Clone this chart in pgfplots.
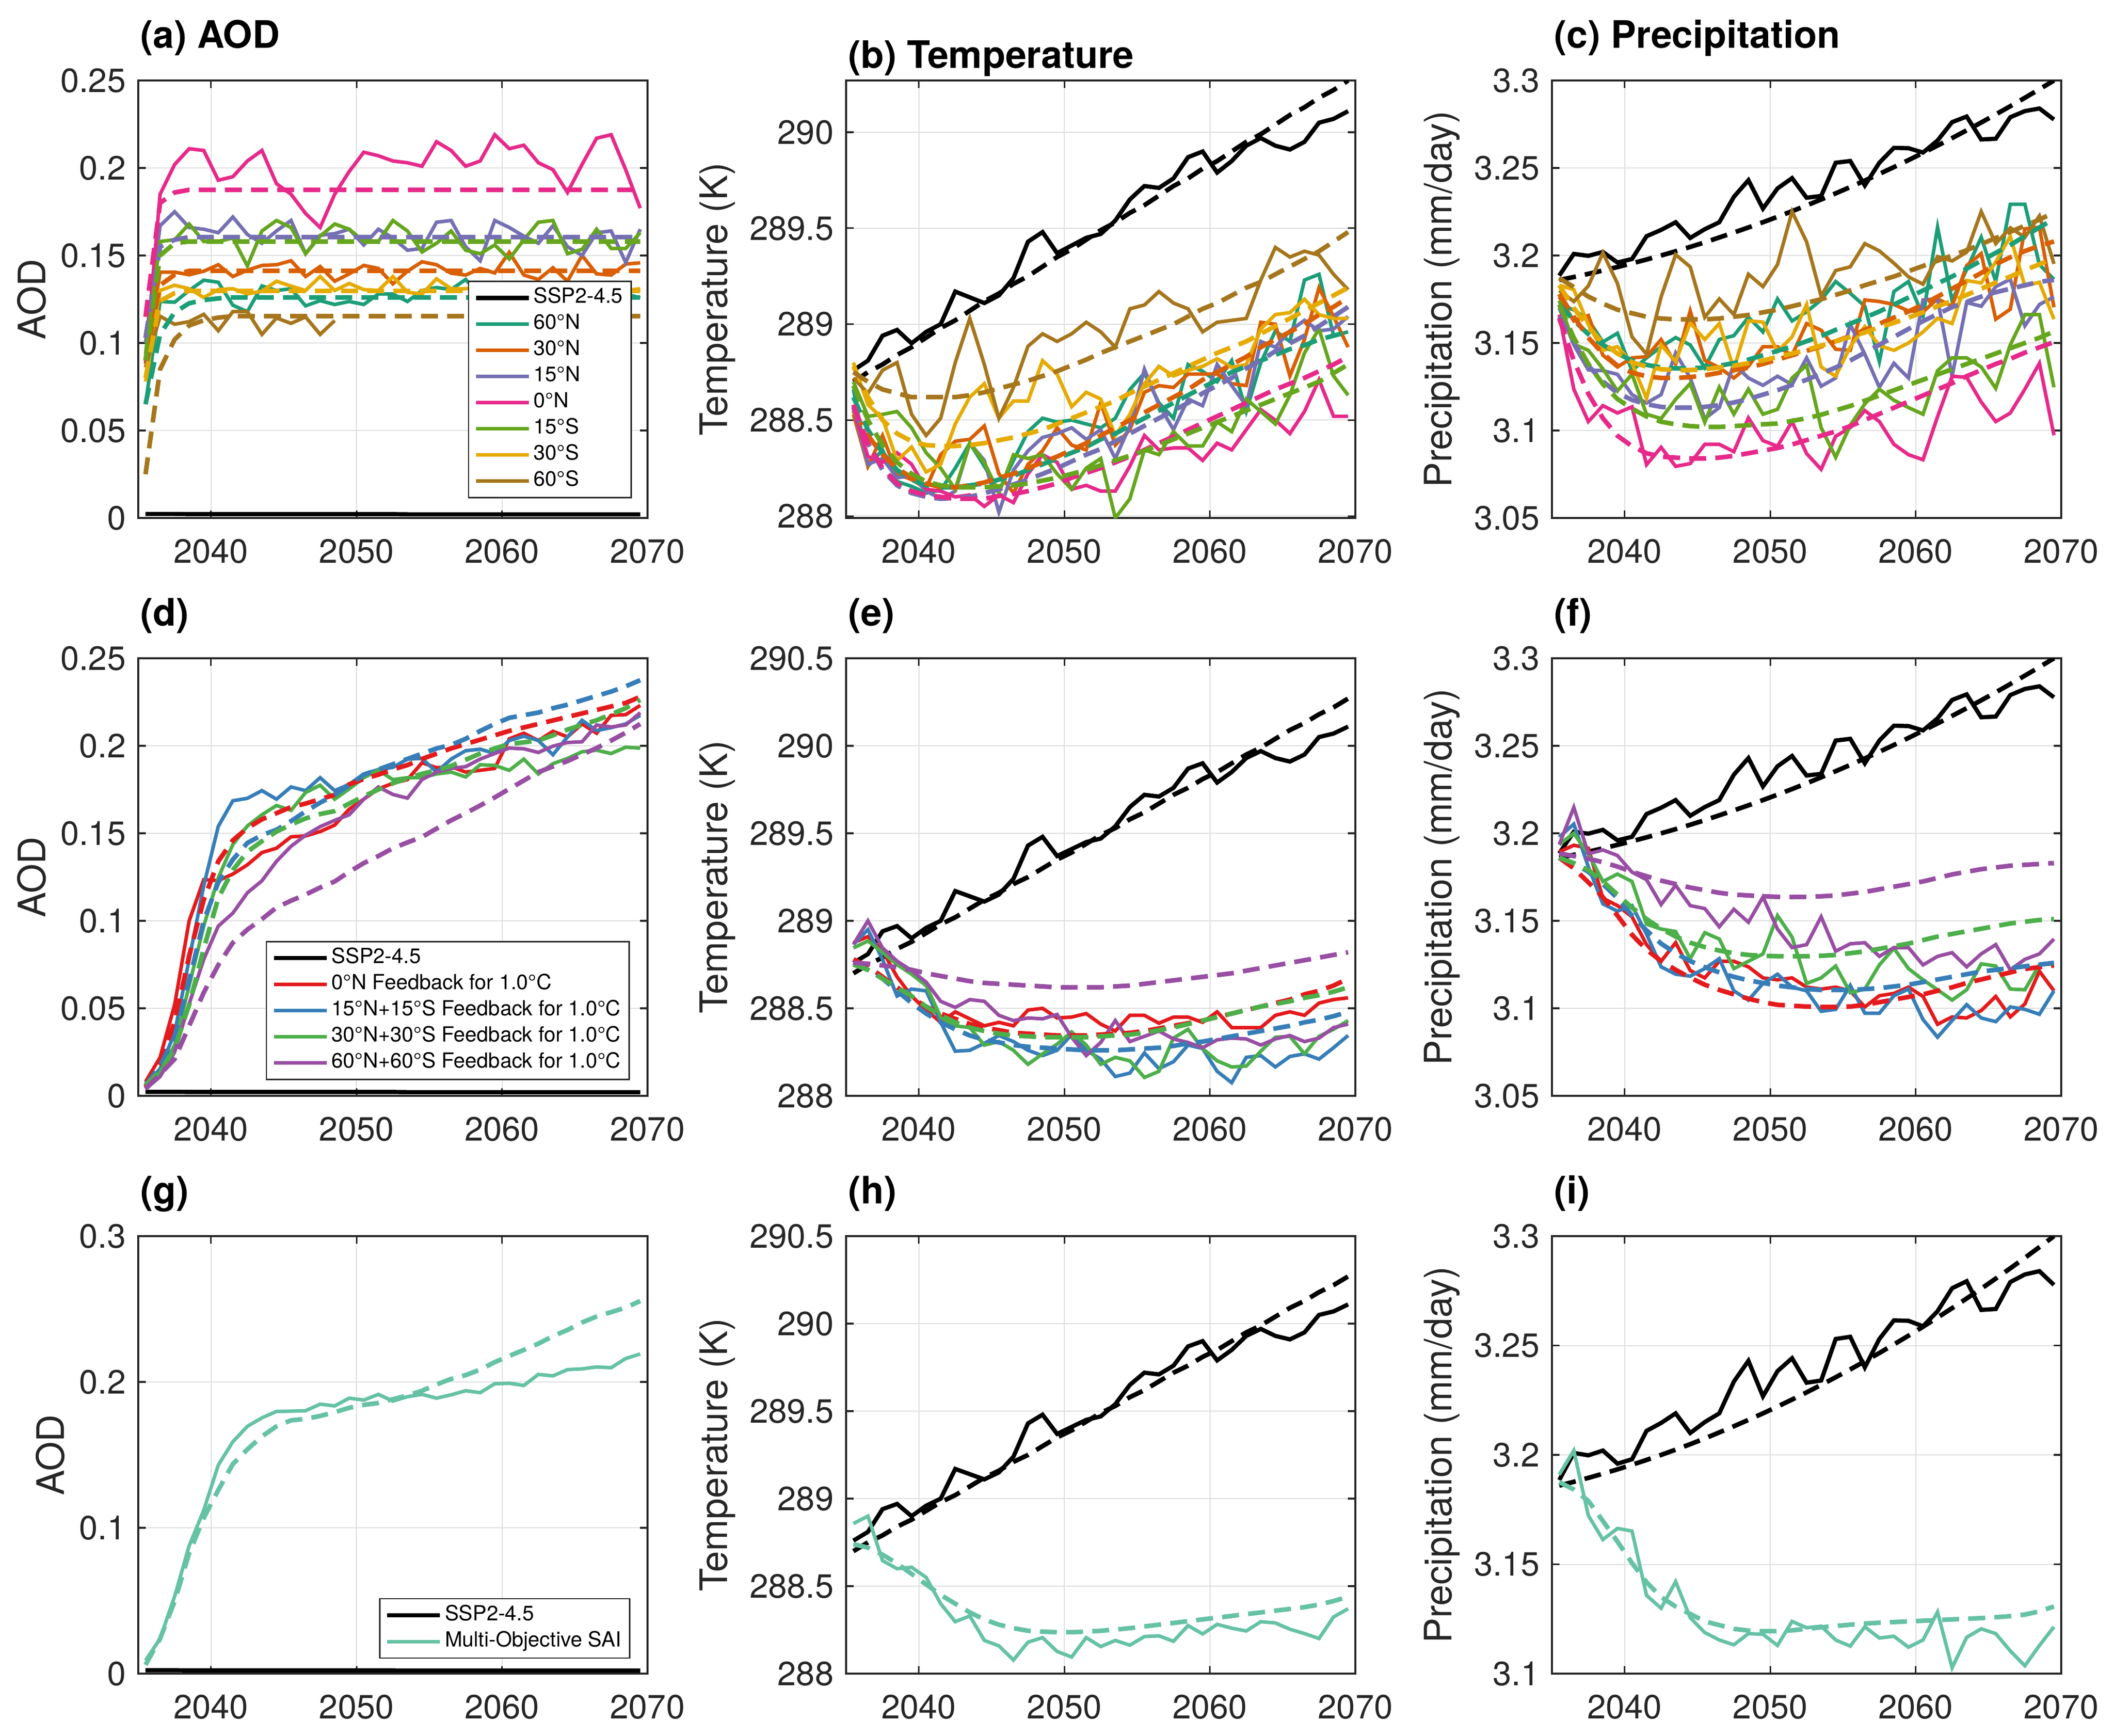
\documentclass[border=0pt]{standalone}
\usepackage{pgfplots}
\pgfplotsset{compat=1.18}
\usepackage{pgfplotstable}
\usepackage{fontspec}
\setmainfont{TeX Gyre Heros}

\definecolor{txt}{HTML}{262626}
\definecolor{n60}{HTML}{1B9E77}
\definecolor{n30}{HTML}{D95F02}
\definecolor{n15}{HTML}{7570B3}
\definecolor{n00}{HTML}{E7298A}
\definecolor{s15}{HTML}{66A61E}
\definecolor{s30}{HTML}{E6AB02}
\definecolor{s60}{HTML}{A6761D}
\definecolor{fr}{HTML}{E41A1C}
\definecolor{fb}{HTML}{377EB8}
\definecolor{fg}{HTML}{4DAF4A}
\definecolor{fp}{HTML}{984EA3}
\definecolor{mo}{HTML}{66C2A5}

% SSP2-4.5 reference run: AOD, temperature (K) with fit, precipitation (mm/day) with fit
\pgfplotstableread{
yr aod T Tf P Pf
2035.5 0.0023 288.76 288.70 3.1885 3.1860
2036.5 0.0023 288.81 288.75 3.2009 3.1877
2037.5 0.0023 288.94 288.79 3.1998 3.1895
2038.5 0.0022 288.97 288.84 3.2020 3.1914
2039.5 0.0022 288.90 288.88 3.1960 3.1934
2040.5 0.0022 288.96 288.93 3.1980 3.1955
2041.5 0.0022 289.00 288.98 3.2110 3.1977
2042.5 0.0022 289.17 289.02 3.2146 3.2000
2043.5 0.0022 289.14 289.07 3.2190 3.2024
2044.5 0.0022 289.11 289.12 3.2100 3.2049
2045.5 0.0022 289.15 289.16 3.2150 3.2075
2046.5 0.0022 289.24 289.21 3.2190 3.2103
2047.5 0.0022 289.43 289.25 3.2335 3.2131
2048.5 0.0022 289.48 289.30 3.2430 3.2160
2049.5 0.0022 289.37 289.35 3.2268 3.2190
2050.5 0.0022 289.41 289.39 3.2383 3.2221
2051.5 0.0022 289.45 289.44 3.2442 3.2253
2052.5 0.0022 289.47 289.49 3.2330 3.2286
2053.5 0.0021 289.54 289.53 3.2340 3.2320
2054.5 0.0021 289.65 289.58 3.2530 3.2355
2055.5 0.0021 289.72 289.62 3.2540 3.2391
2056.5 0.0021 289.71 289.67 3.2400 3.2428
2057.5 0.0021 289.76 289.72 3.2530 3.2466
2058.5 0.0021 289.87 289.76 3.2615 3.2505
2059.5 0.0021 289.90 289.81 3.2613 3.2545
2060.5 0.0021 289.79 289.85 3.2588 3.2586
2061.5 0.0021 289.85 289.90 3.2657 3.2628
2062.5 0.0021 289.93 289.95 3.2762 3.2671
2063.5 0.0021 289.97 289.99 3.2794 3.2715
2064.5 0.0021 289.93 290.04 3.2663 3.2760
2065.5 0.0021 289.91 290.09 3.2667 3.2806
2066.5 0.0021 289.95 290.13 3.2790 3.2853
2067.5 0.0021 290.05 290.18 3.2825 3.2901
2068.5 0.0021 290.07 290.22 3.2840 3.2950
2069.5 0.0021 290.11 290.27 3.2777 3.3000
}\ssp

% (a) AOD, single-latitude injections (s = simulated, d = fit)
\pgfplotstableread{
yr s60N d60N s30N d30N s15N d15N s0N d0N s15S d15S s30S d30S s60S d60S
2035.5 0.065 0.065 0.088 0.090 0.100 0.103 0.089 0.115 0.094 0.090 0.078 0.080 0.086 0.025
2036.5 0.1237 0.105 0.1405 0.133 0.167 0.155 0.185 0.180 0.158 0.150 0.130 0.124 0.1153 0.085
2037.5 0.1233 0.1175 0.1405 0.139 0.175 0.159 0.202 0.186 0.159 0.157 0.133 0.1285 0.1107 0.102
2038.5 0.130 0.1227 0.139 0.1412 0.166 0.1605 0.211 0.1875 0.168 0.158 0.131 0.1298 0.1122 0.110
2039.5 0.1359 0.1245 0.141 0.1412 0.165 0.1605 0.210 0.1875 0.158 0.158 0.126 0.1298 0.1164 0.113
2040.5 0.1347 0.1255 0.1447 0.1412 0.163 0.1605 0.193 0.1875 0.158 0.158 0.1305 0.1298 0.107 0.1145
2041.5 0.1216 0.126 0.138 0.1412 0.172 0.1605 0.195 0.1875 0.160 0.158 0.131 0.1298 0.1179 0.1153
2042.5 0.1179 0.126 0.1416 0.1412 0.162 0.1605 0.204 0.1875 0.144 0.158 0.128 0.1298 0.1179 0.1153
2043.5 0.1326 0.126 0.1443 0.1412 0.157 0.1605 0.210 0.1875 0.164 0.158 0.1296 0.1298 0.1049 0.1153
2044.5 0.130 0.126 0.1447 0.1412 0.164 0.1605 0.191 0.1875 0.170 0.158 0.1353 0.1298 0.1143 0.1153
2045.5 0.131 0.126 0.147 0.1412 0.170 0.1605 0.185 0.1875 0.166 0.158 0.1325 0.1298 0.1112 0.1153
2046.5 0.1212 0.126 0.138 0.1412 0.151 0.1605 0.174 0.1875 0.151 0.158 0.130 0.1298 0.1149 0.1153
2047.5 0.1242 0.126 0.1437 0.1412 0.1615 0.1605 0.166 0.1875 0.161 0.158 0.138 0.1298 0.1049 0.1153
2048.5 0.122 0.126 0.1353 0.1412 0.1625 0.1605 0.185 0.1875 0.168 0.158 0.130 0.1298 0.1128 0.1153
2049.5 0.1237 0.126 0.1395 0.1412 0.165 0.1605 0.198 0.1875 0.165 0.158 0.134 0.1298 nan 0.1153
2050.5 0.122 0.126 0.1443 0.1412 0.156 0.1605 0.209 0.1875 0.158 0.158 0.1305 0.1298 nan 0.1153
2051.5 0.128 0.126 0.1426 0.1412 0.165 0.1605 0.207 0.1875 0.158 0.158 0.130 0.1298 nan 0.1153
2052.5 0.128 0.126 0.1338 0.1412 0.160 0.1605 0.204 0.1875 0.170 0.158 0.138 0.1298 nan 0.1153
2053.5 0.1237 0.126 0.141 0.1412 0.153 0.1605 0.203 0.1875 0.164 0.158 0.129 0.1298 nan 0.1153
2054.5 0.130 0.126 0.1464 0.1412 0.154 0.1605 0.201 0.1875 0.152 0.158 0.128 0.1298 nan 0.1153
2055.5 0.1317 0.126 0.1447 0.1412 0.169 0.1605 0.215 0.1875 0.157 0.158 0.1367 0.1298 nan 0.1153
2056.5 0.1305 0.126 0.1399 0.1412 0.170 0.1605 0.210 0.1875 0.164 0.158 0.131 0.1298 nan 0.1153
2057.5 0.1363 0.126 0.1388 0.1412 0.155 0.1605 0.201 0.1875 0.153 0.158 0.131 0.1298 nan 0.1153
2058.5 0.127 0.126 0.1426 0.1412 0.147 0.1605 0.204 0.1875 0.151 0.158 0.132 0.1298 nan 0.1153
2059.5 0.125 0.126 0.140 0.1412 0.170 0.1605 0.219 0.1875 0.156 0.158 0.130 0.1298 nan 0.1153
2060.5 0.128 0.126 0.1518 0.1412 0.166 0.1605 0.211 0.1875 0.148 0.158 0.131 0.1298 nan 0.1153
2061.5 0.126 0.126 0.1388 0.1412 0.161 0.1605 0.213 0.1875 0.159 0.158 0.129 0.1298 nan 0.1153
2062.5 0.124 0.126 0.1363 0.1412 0.157 0.1605 0.203 0.1875 0.169 0.158 0.132 0.1298 nan 0.1153
2063.5 0.127 0.126 0.143 0.1412 0.167 0.1605 0.199 0.1875 0.170 0.158 0.130 0.1298 nan 0.1153
2064.5 0.125 0.126 0.1353 0.1412 0.155 0.1605 0.186 0.1875 0.151 0.158 0.131 0.1298 nan 0.1153
2065.5 0.128 0.126 0.150 0.1412 0.150 0.1605 0.202 0.1875 0.1535 0.158 0.1325 0.1298 nan 0.1153
2066.5 0.126 0.126 0.1395 0.1412 0.163 0.1605 0.217 0.1875 0.165 0.158 0.133 0.1298 nan 0.1153
2067.5 0.127 0.126 0.1388 0.1412 0.164 0.1605 0.219 0.1875 0.154 0.158 0.1335 0.1298 nan 0.1153
2068.5 0.128 0.126 0.1451 0.1412 0.146 0.1605 0.199 0.1875 0.154 0.158 0.130 0.1298 nan 0.1153
2069.5 0.1258 0.126 0.1458 0.1412 0.165 0.1605 0.177 0.1875 0.163 0.158 0.131 0.1298 nan 0.1153
}\ta

% (b) temperature (K), single-latitude injections
\pgfplotstableread{
yr s60N d60N s30N d30N s15N d15N s0N d0N s15S d15S s30S d30S s60S d60S
2035.5 288.66 288.62 288.53 288.55 288.56 288.57 288.56 288.58 288.70 288.68 288.80 288.78 288.72 288.75
2036.5 288.26 288.45 288.26 288.42 288.27 288.38 288.31 288.38 288.52 288.50 288.58 288.62 288.64 288.70
2037.5 288.345 288.33 288.42 288.32 288.30 288.24 288.28 288.25 288.53 288.37 288.51 288.50 288.76 288.66
2038.5 288.18 288.24 288.22 288.25 288.20 288.16 288.33 288.17 288.545 288.28 288.29 288.43 288.80 288.64
2039.5 288.155 288.19 288.19 288.20 288.21 288.12 288.27 288.13 288.46 288.22 288.36 288.39 288.53 288.62
2040.5 288.12 288.16 288.145 288.17 288.13 288.10 288.14 288.11 288.33 288.18 288.23 288.37 288.42 288.62
2041.5 288.135 288.15 288.32 288.15 288.09 288.09 288.13 288.10 288.25 288.16 288.27 288.365 288.51 288.62
2042.5 288.25 288.15 288.39 288.15 288.13 288.095 288.10 288.09 288.14 288.15 288.48 288.365 288.80 288.62
2043.5 288.38 288.16 288.40 288.16 288.38 288.10 288.11 288.09 288.38 288.15 288.62 288.37 289.03 288.63
2044.5 288.26 288.17 288.47 288.175 288.29 288.12 288.05 288.09 288.28 288.15 288.69 288.38 288.79 288.645
2045.5 288.13 288.19 288.22 288.20 288.02 288.14 288.11 288.105 288.12 288.155 288.51 288.395 288.51 288.665
2046.5 288.29 288.21 288.12 288.22 288.24 288.165 288.07 288.115 288.32 288.16 288.60 288.41 288.67 288.685
2047.5 288.44 288.24 288.27 288.25 288.34 288.19 288.22 288.13 288.30 288.17 288.60 288.43 288.885 288.705
2048.5 288.51 288.27 288.34 288.28 288.41 288.22 288.32 288.15 288.32 288.185 288.81 288.45 288.95 288.73
2049.5 288.49 288.30 288.46 288.31 288.43 288.25 288.28 288.17 288.22 288.20 288.74 288.48 288.91 288.755
2050.5 288.50 288.33 288.37 288.345 288.46 288.285 288.14 288.20 288.14 288.22 288.57 288.51 288.95 288.785
2051.5 288.48 288.36 288.345 288.38 288.40 288.32 288.16 288.225 288.25 288.24 288.645 288.54 289.01 288.815
2052.5 288.46 288.40 288.59 288.42 288.45 288.35 288.13 288.25 288.30 288.265 288.61 288.57 288.96 288.85
2053.5 288.51 288.43 288.37 288.46 288.30 288.39 288.13 288.28 287.99 288.29 288.42 288.60 288.88 288.88
2054.5 288.66 288.47 288.45 288.50 288.47 288.43 288.26 288.31 288.09 288.315 288.53 288.64 289.08 288.91
2055.5 288.745 288.51 288.645 288.54 288.765 288.47 288.42 288.345 288.345 288.34 288.69 288.675 289.10 288.94
2056.5 288.59 288.55 288.68 288.58 288.58 288.51 288.345 288.38 288.32 288.37 288.78 288.71 289.17 288.97
2057.5 288.51 288.59 288.67 288.62 288.45 288.55 288.355 288.415 288.44 288.40 288.73 288.745 289.11 289.00
2058.5 288.79 288.63 288.74 288.66 288.61 288.59 288.355 288.45 288.365 288.43 288.76 288.78 289.08 289.04
2059.5 288.755 288.67 288.74 288.71 288.575 288.64 288.29 288.485 288.365 288.46 288.78 288.815 288.96 289.08
2060.5 288.70 288.71 288.74 288.75 288.79 288.68 288.38 288.52 288.49 288.49 288.82 288.85 289.01 289.11
2061.5 288.81 288.75 288.69 288.79 288.68 288.72 288.345 288.555 288.44 288.52 288.775 288.88 289.02 289.15
2062.5 288.545 288.78 288.68 288.83 288.575 288.77 288.45 288.59 288.61 288.55 288.79 288.91 289.03 289.19
2063.5 288.80 288.81 289.01 288.88 288.91 288.81 288.555 288.625 288.545 288.58 288.975 288.95 289.23 289.22
2064.5 288.965 288.84 289.00 288.92 288.88 288.86 288.50 288.66 288.48 288.61 289.05 288.99 289.40 289.26
2065.5 288.91 288.87 288.73 288.96 288.965 288.90 288.43 288.69 288.63 288.64 289.06 289.03 289.35 289.30
2066.5 289.23 288.89 288.92 289.00 289.02 288.94 288.545 288.72 288.85 288.67 289.13 289.07 289.38 289.34
2067.5 289.26 288.92 289.19 289.05 288.965 288.99 288.71 288.755 288.975 288.70 289.05 289.11 289.36 289.38
2068.5 288.94 288.94 289.04 289.09 288.975 289.04 288.52 288.79 288.73 288.745 289.03 289.15 289.26 289.43
2069.5 288.96 288.96 288.88 289.14 289.04 289.09 288.52 288.83 288.63 288.79 289.03 289.19 289.18 289.48
}\tb

% (c) precipitation (mm/day), single-latitude injections
\pgfplotstableread{
yr s60N d60N s30N d30N s15N d15N s0N d0N s15S d15S s30S d30S s60S d60S
2035.5 3.172 3.172 3.1763 3.178 3.170 3.165 3.1662 3.164 3.1742 3.172 3.183 3.183 3.180 3.187
2036.5 3.1689 3.163 3.1626 3.165 3.1489 3.150 3.1236 3.140 3.1493 3.153 3.1805 3.170 3.1737 3.182
2037.5 3.1632 3.155 3.1657 3.153 3.1346 3.137 3.1051 3.121 3.1458 3.138 3.1605 3.159 3.1826 3.1765
2038.5 3.1506 3.149 3.143 3.144 3.1342 3.128 3.1142 3.107 3.1352 3.1265 3.1458 3.150 3.2015 3.1725
2039.5 3.1556 3.144 3.1363 3.137 3.1321 3.1215 3.110 3.097 3.1226 3.118 3.1479 3.144 3.184 3.169
2040.5 3.1342 3.140 3.1415 3.133 3.1205 3.1175 3.1135 3.091 3.1321 3.1125 3.1384 3.139 3.1535 3.167
2041.5 3.1415 3.1375 3.1422 3.131 3.1157 3.115 3.0805 3.087 3.1093 3.108 3.1184 3.1365 3.1436 3.165
2042.5 3.1478 3.136 3.152 3.130 3.1205 3.1135 3.0904 3.085 3.1068 3.105 3.1489 3.135 3.1763 3.164
2043.5 3.1531 3.1355 3.138 3.130 3.1443 3.113 3.0795 3.0845 3.1178 3.1035 3.1394 3.1345 3.2005 3.1635
2044.5 3.1489 3.1355 3.1683 3.1305 3.130 3.113 3.0811 3.084 3.1268 3.1025 3.1615 3.1345 3.1935 3.1635
2045.5 3.1359 3.136 3.1401 3.1315 3.1068 3.1135 3.0921 3.084 3.1047 3.102 3.152 3.135 3.1647 3.1635
2046.5 3.152 3.137 3.1359 3.133 3.1131 3.1145 3.0921 3.0845 3.1247 3.102 3.1611 3.136 3.1752 3.164
2047.5 3.1542 3.1385 3.130 3.1345 3.138 3.116 3.0879 3.0855 3.1093 3.1025 3.1352 3.137 3.1662 3.165
2048.5 3.1647 3.1405 3.1367 3.136 3.130 3.118 3.1072 3.087 3.1236 3.103 3.1626 3.1385 3.1893 3.166
2049.5 3.1563 3.143 3.1479 3.138 3.1258 3.1205 3.0942 3.0885 3.1093 3.1035 3.162 3.140 3.1822 3.1675
2050.5 3.1752 3.1455 3.1479 3.1405 3.131 3.123 3.091 3.090 3.1121 3.104 3.1451 3.142 3.1948 3.169
2051.5 3.1626 3.148 3.143 3.143 3.1262 3.126 3.1051 3.092 3.130 3.1055 3.1535 3.144 3.2251 3.171
2052.5 3.1678 3.151 3.1611 3.1455 3.1415 3.129 3.0868 3.0945 3.1373 3.107 3.172 3.146 3.2078 3.173
2053.5 3.1746 3.154 3.1573 3.148 3.1253 3.1325 3.0778 3.097 3.1016 3.109 3.1363 3.1485 3.1767 3.175
2054.5 3.1851 3.1575 3.1464 3.151 3.130 3.136 3.0967 3.0995 3.0847 3.1115 3.131 3.151 3.1914 3.1775
2055.5 3.1784 3.161 3.1458 3.154 3.1605 3.140 3.1016 3.1025 3.103 3.114 3.1479 3.1535 3.1935 3.180
2056.5 3.171 3.1645 3.1746 3.1575 3.1436 3.1445 3.1114 3.106 3.1152 3.117 3.1594 3.156 3.2068 3.183
2057.5 3.1394 3.168 3.1737 3.161 3.1247 3.149 3.1051 3.1095 3.1236 3.120 3.1485 3.159 3.2026 3.1855
2058.5 3.1794 3.172 3.172 3.1645 3.1384 3.1535 3.0921 3.113 3.1173 3.123 3.1458 3.1615 3.1956 3.188
2059.5 3.1851 3.176 3.1683 3.168 3.130 3.158 3.0862 3.1165 3.1131 3.126 3.150 3.1645 3.1878 3.191
2060.5 3.1653 3.180 3.1678 3.172 3.1746 3.1625 3.0833 3.120 3.1093 3.129 3.1563 3.1675 3.1836 3.194
2061.5 3.2162 3.184 3.1752 3.1765 3.1752 3.1665 3.1079 3.1235 3.1342 3.132 3.1641 3.171 3.1994 3.197
2062.5 3.1742 3.188 3.171 3.181 3.131 3.1705 3.131 3.127 3.1415 3.135 3.1611 3.174 3.1969 3.200
2063.5 3.192 3.1925 3.1942 3.1855 3.1731 3.1735 3.1304 3.131 3.1415 3.138 3.1857 3.1775 3.2019 3.203
2064.5 3.2104 3.197 3.2011 3.190 3.171 3.1765 3.1163 3.1345 3.1363 3.141 3.1843 3.181 3.2251 3.2065
2065.5 3.1851 3.2015 3.1636 3.195 3.1822 3.179 3.1051 3.138 3.1241 3.144 3.1963 3.1845 3.2068 3.210
2066.5 3.2293 3.206 3.1693 3.199 3.1864 3.181 3.110 3.141 3.1489 3.147 3.211 3.188 3.2158 3.2135
2067.5 3.2293 3.211 3.2152 3.2025 3.1598 3.183 3.1236 3.1445 3.1662 3.150 3.1826 3.1915 3.2104 3.217
2068.5 3.1948 3.216 3.2162 3.2055 3.172 3.185 3.1384 3.1475 3.1662 3.153 3.1847 3.195 3.2226 3.2205
2069.5 3.1864 3.221 3.1704 3.208 3.1763 3.186 3.0973 3.1505 3.1247 3.1565 3.1636 3.1985 3.1952 3.2245
}\tc

% (d) AOD, feedback runs for 1.0 C (r/b/g/p = 0N, 15N+15S, 30N+30S, 60N+60S)
\pgfplotstableread{
yr rs rd bs bd gs gd ps pd
2035.5 0.008 0.005 0.006 0.006 0.007 0.006 0.0038 0.004
2036.5 0.022 0.019 0.0155 0.017 0.0133 0.014 0.011 0.0123
2037.5 0.052 0.042 0.036 0.034 0.029 0.027 0.025 0.021
2038.5 0.100 0.080 0.078 0.066 0.063 0.052 0.0525 0.040
2039.5 0.1235 0.112 0.120 0.100 0.097 0.084 0.078 0.059
2040.5 0.123 0.134 0.154 0.122 0.1246 0.113 0.097 0.0748
2041.5 0.1267 0.146 0.1686 0.135 0.1436 0.129 0.1044 0.0875
2042.5 0.132 0.153 0.170 0.1445 0.1542 0.1395 0.116 0.095
2043.5 0.139 0.158 0.1744 0.149 0.1606 0.1455 0.1229 0.101
2044.5 0.1415 0.1615 0.1695 0.152 0.1659 0.151 0.134 0.1076
2045.5 0.148 0.165 0.1765 0.157 0.1631 0.155 0.1426 0.1115
2046.5 0.1485 0.167 0.1744 0.1625 0.1733 0.1585 0.1489 0.115
2047.5 0.151 0.1695 0.1818 0.1675 0.1775 0.161 0.1538 0.119
2048.5 0.1547 0.172 0.1744 0.172 0.1695 0.1627 0.1574 0.1225
2049.5 0.1638 0.178 0.178 0.1775 0.1754 0.167 0.1606 0.128
2050.5 0.1695 0.181 0.1839 0.1835 0.1818 0.1712 0.1695 0.133
2051.5 0.1754 0.1835 0.1864 0.1865 0.186 0.175 0.1765 0.137
2052.5 0.1786 0.1865 0.1877 0.1895 0.1807 0.1786 0.1722 0.1415
2053.5 0.1807 0.189 0.1924 0.1925 0.1818 0.1815 0.1701 0.1448
2054.5 0.1903 0.1925 0.1928 0.1955 0.1818 0.184 0.1807 0.1479
2055.5 0.1875 0.1955 0.185 0.1985 0.1839 0.186 0.185 0.1527
2056.5 0.1881 0.1985 0.1924 0.2005 0.185 0.1885 0.1871 0.1574
2057.5 0.185 0.201 0.1972 0.204 0.1822 0.192 0.1881 0.1615
2058.5 0.186 0.2035 0.1981 0.2085 0.1892 0.1956 0.1924 0.1659
2059.5 0.1871 0.206 0.1956 0.2125 0.1888 0.1985 0.1956 0.1705
2060.5 0.204 0.2085 0.203 0.216 0.186 0.201 0.1987 0.1754
2061.5 0.2072 0.2105 0.2055 0.2175 0.1924 0.202 0.1983 0.1802
2062.5 0.203 0.2125 0.203 0.219 0.1839 0.203 0.1962 0.185
2063.5 0.2083 0.2145 0.1949 0.2215 0.1898 0.206 0.1998 0.1882
2064.5 0.2051 0.2165 0.2051 0.2235 0.1928 0.2093 0.2019 0.1913
2065.5 0.2125 0.2185 0.2146 0.226 0.1966 0.212 0.2023 0.195
2066.5 0.2072 0.2205 0.2087 0.2285 0.1975 0.2146 0.2119 0.1987
2067.5 0.2174 0.2225 0.2104 0.231 0.1956 0.218 0.2108 0.203
2068.5 0.2178 0.2245 0.2125 0.234 0.1992 0.2215 0.2119 0.2075
2069.5 0.2231 0.228 0.2174 0.2375 0.1987 0.2263 0.2189 0.2125
}\td

% (e) temperature (K), feedback runs
\pgfplotstableread{
yr rs rd bs bd gs gd ps pd
2035.5 288.875 288.78 288.865 288.76 288.845 288.75 288.865 288.76
2036.5 288.91 288.74 288.95 288.72 288.885 288.72 289.00 288.755
2037.5 288.83 288.68 288.78 288.67 288.82 288.67 288.845 288.745
2038.5 288.68 288.62 288.57 288.60 288.75 288.62 288.77 288.735
2039.5 288.57 288.56 288.61 288.53 288.695 288.57 288.715 288.72
2040.5 288.49 288.51 288.60 288.47 288.63 288.51 288.65 288.70
2041.5 288.42 288.47 288.42 288.42 288.45 288.46 288.54 288.685
2042.5 288.48 288.44 288.255 288.38 288.40 288.42 288.505 288.67
2043.5 288.44 288.41 288.26 288.345 288.39 288.39 288.55 288.655
2044.5 288.40 288.39 288.30 288.32 288.29 288.37 288.54 288.645
2045.5 288.42 288.375 288.345 288.305 288.31 288.355 288.46 288.64
2046.5 288.40 288.36 288.31 288.29 288.26 288.345 288.43 288.635
2047.5 288.49 288.355 288.26 288.28 288.18 288.34 288.445 288.63
2048.5 288.50 288.35 288.23 288.275 288.24 288.335 288.44 288.625
2049.5 288.445 288.345 288.26 288.27 288.295 288.335 288.465 288.62
2050.5 288.45 288.345 288.35 288.265 288.365 288.335 288.335 288.62
2051.5 288.47 288.345 288.26 288.26 288.29 288.335 288.23 288.62
2052.5 288.41 288.35 288.21 288.26 288.18 288.34 288.305 288.62
2053.5 288.37 288.355 288.11 288.26 288.22 288.345 288.43 288.625
2054.5 288.46 288.36 288.13 288.265 288.20 288.35 288.31 288.63
2055.5 288.46 288.37 288.245 288.27 288.105 288.36 288.34 288.64
2056.5 288.415 288.385 288.155 288.275 288.14 288.375 288.37 288.65
2057.5 288.45 288.40 288.195 288.285 288.33 288.39 288.325 288.66
2058.5 288.45 288.415 288.29 288.30 288.38 288.41 288.305 288.67
2059.5 288.42 288.43 288.27 288.31 288.27 288.43 288.275 288.68
2060.5 288.48 288.45 288.14 288.325 288.20 288.45 288.32 288.69
2061.5 288.39 288.47 288.075 288.34 288.165 288.47 288.33 288.70
2062.5 288.39 288.49 288.22 288.355 288.17 288.49 288.325 288.715
2063.5 288.39 288.51 288.23 288.37 288.255 288.51 288.29 288.73
2064.5 288.46 288.53 288.165 288.385 288.335 288.525 288.325 288.745
2065.5 288.48 288.55 288.225 288.40 288.34 288.54 288.345 288.76
2066.5 288.46 288.58 288.24 288.42 288.24 288.56 288.31 288.775
2067.5 288.53 288.60 288.21 288.435 288.34 288.575 288.33 288.79
2068.5 288.55 288.63 288.275 288.455 288.38 288.595 288.39 288.805
2069.5 288.56 288.67 288.345 288.48 288.43 288.62 288.41 288.82
}\te

% (f) precipitation (mm/day), feedback runs
\pgfplotstableread{
yr rs rd bs bd gs gd ps pd
2035.5 3.1894 3.186 3.1979 3.186 3.1936 3.186 3.1936 3.1885
2036.5 3.1932 3.180 3.2053 3.183 3.200 3.183 3.2148 3.187
2037.5 3.1915 3.172 3.1809 3.178 3.1883 3.179 3.1883 3.1855
2038.5 3.1629 3.1635 3.1597 3.171 3.1725 3.1725 3.1905 3.1835
2039.5 3.1587 3.153 3.1555 3.163 3.1767 3.165 3.1873 3.181
2040.5 3.1523 3.142 3.1587 3.153 3.1725 3.1575 3.1778 3.178
2041.5 3.1364 3.1335 3.1424 3.1445 3.1481 3.151 3.1735 3.1755
2042.5 3.1269 3.127 3.1237 3.137 3.1453 3.1455 3.1593 3.173
2043.5 3.1375 3.122 3.1195 3.1315 3.1439 3.141 3.1703 3.171
2044.5 3.1216 3.1175 3.1184 3.127 3.1284 3.1375 3.1587 3.169
2045.5 3.1174 3.1135 3.1227 3.1235 3.1432 3.135 3.157 3.1675
2046.5 3.1269 3.1105 3.1284 3.1205 3.1396 3.133 3.1466 3.166
2047.5 3.1269 3.108 3.110 3.118 3.1227 3.1315 3.1566 3.165
2048.5 3.1237 3.1055 3.1047 3.116 3.1269 3.1305 3.1492 3.1645
2049.5 3.1174 3.1035 3.1142 3.1145 3.1311 3.130 3.1636 3.164
2050.5 3.1163 3.102 3.1195 3.113 3.153 3.1298 3.1453 3.1637
2051.5 3.1174 3.1015 3.1121 3.112 3.1407 3.1297 3.1347 3.1636
2052.5 3.1121 3.101 3.110 3.111 3.1142 3.1298 3.1364 3.1637
2053.5 3.111 3.1008 3.0983 3.1105 3.1174 3.130 3.1523 3.164
2054.5 3.1121 3.1008 3.0994 3.1105 3.1242 3.1305 3.1326 3.1645
2055.5 3.110 3.101 3.1131 3.1105 3.1089 3.1315 3.1369 3.1655
2056.5 3.1008 3.102 3.0972 3.111 3.111 3.1325 3.1375 3.1665
2057.5 3.1072 3.1035 3.0972 3.1115 3.1248 3.134 3.1297 3.168
2058.5 3.1085 3.105 3.1072 3.1125 3.1343 3.1355 3.1347 3.1695
2059.5 3.1121 3.1065 3.111 3.1135 3.1227 3.137 3.1347 3.171
2060.5 3.1068 3.108 3.0936 3.115 3.1163 3.139 3.1248 3.1725
2061.5 3.0909 3.110 3.0835 3.1165 3.1106 3.141 3.1297 3.1745
2062.5 3.0951 3.112 3.093 3.118 3.1047 3.1425 3.1318 3.1765
2063.5 3.0945 3.1145 3.1021 3.1195 3.1106 3.144 3.1237 3.178
2064.5 3.0987 3.1165 3.0945 3.121 3.1254 3.1455 3.1311 3.1795
2065.5 3.1068 3.1185 3.0924 3.122 3.1242 3.147 3.1364 3.1805
2066.5 3.0951 3.1205 3.1008 3.123 3.111 3.1485 3.122 3.1815
2067.5 3.1025 3.1225 3.0994 3.124 3.1106 3.1495 3.128 3.182
2068.5 3.1212 3.1235 3.0966 3.125 3.1248 3.1505 3.1311 3.1825
2069.5 3.110 3.1245 3.110 3.126 3.1254 3.151 3.1396 3.183
}\tf

% (g)-(i) multi-objective SAI: AOD, temperature, precipitation
\pgfplotstableread{
yr as ad ts td ps pd
2035.5 0.009 0.006 288.858 288.74 3.191 3.1876
2036.5 0.024 0.024 288.90 288.72 3.202 3.1842
2037.5 0.053 0.0496 288.646 288.68 3.1723 3.179
2038.5 0.0877 0.0826 288.60 288.63 3.1613 3.1698
2039.5 0.112 0.1068 288.608 288.57 3.1664 3.1604
2040.5 0.143 0.1259 288.55 288.51 3.1652 3.1506
2041.5 0.159 0.1437 288.40 288.45 3.1358 3.1418
2042.5 0.1696 0.1538 288.297 288.40 3.1299 3.135
2043.5 0.1754 0.1627 288.33 288.35 3.1421 3.1307
2044.5 0.1798 0.1696 288.19 288.31 3.1256 3.1273
2045.5 0.180 0.1737 288.159 288.28 3.1188 3.1239
2046.5 0.1803 0.1747 288.078 288.26 3.1154 3.1222
2047.5 0.1848 0.1767 288.18 288.245 3.1132 3.1205
2048.5 0.1836 0.1793 288.206 288.24 3.1183 3.1197
2049.5 0.1889 0.1823 288.127 288.237 3.118 3.1194
2050.5 0.1876 0.1843 288.095 288.237 3.1129 3.1194
2051.5 0.1915 0.1856 288.206 288.24 3.1239 3.1198
2052.5 0.1869 0.1882 288.155 288.245 3.121 3.1205
2053.5 0.1899 0.1907 288.19 288.252 3.1217 3.1212
2054.5 0.1915 0.194 288.163 288.26 3.1154 3.1218
2055.5 0.1889 0.1983 288.212 288.27 3.1126 3.1224
2056.5 0.1912 0.2021 288.216 288.28 3.1214 3.1229
2057.5 0.194 0.2047 288.185 288.29 3.1163 3.1233
2058.5 0.1927 0.2085 288.275 288.30 3.1171 3.1236
2059.5 0.1988 0.2136 288.227 288.31 3.1121 3.1239
2060.5 0.1991 0.2179 288.282 288.32 3.1154 3.1242
2061.5 0.1976 0.222 288.26 288.33 3.1282 3.1245
2062.5 0.2052 0.2263 288.244 288.34 3.1027 3.1248
2063.5 0.2042 0.2314 288.297 288.35 3.1166 3.1251
2064.5 0.2085 0.2357 288.29 288.36 3.1205 3.1254
2065.5 0.209 0.2408 288.254 288.37 3.1183 3.1258
2066.5 0.2103 0.2449 288.229 288.38 3.1104 3.1263
2067.5 0.2098 0.2479 288.201 288.395 3.1036 3.127
2068.5 0.2161 0.251 288.324 288.415 3.1129 3.1285
2069.5 0.2192 0.2555 288.371 288.44 3.1214 3.1307
}\tg

\pgfplotsset{
  panel/.style={
    scale only axis, width=5.065cm, height=4.35cm, anchor=north west,
    xmin=2035, xmax=2070, xtick={2040,2050,2060,2070},
    scaled x ticks=false, scaled y ticks=false,
    /pgf/number format/assume math mode=true,
    xticklabel style={/pgf/number format/1000 sep={}, yshift=-2.5pt},
    yticklabel style={/pgf/number format/fixed, /pgf/number format/precision=2},
    tick label style={font=\fontsize{9.5}{11}\selectfont, text=txt},
    ylabel style={font=\fontsize{10.7}{12}\selectfont, text=txt, inner sep=0.5pt},
    every axis title/.style={at={(0,1)}, anchor=base west, xshift=0.015cm, yshift=0.325cm,
      inner sep=0pt, font=\bfseries\fontsize{10.7}{12}\selectfont},
    grid=major, major grid style={line width=0.3pt, black!13},
    axis line style={line width=0.45pt, txt},
    major tick length=0.075cm, tick style={line width=0.45pt, txt},
    every axis plot/.append style={line width=1pt},
    legend cell align=left,
    legend image code/.code={\draw[##1] (0cm,0cm) -- (0.525cm,0cm);},
    legend style={anchor=south east, draw=txt, line width=0.4pt,
      font=\fontsize{5.9}{7}\selectfont, inner xsep=1.5pt, inner ysep=1pt,
      nodes={inner sep=0.8pt, text height=4.4pt, text depth=1.4pt}},
  },
  dsh/.style={line width=1.3pt, dash pattern=on 4.8pt off 2.6pt},
  ssp/.style={black, line width=1.2pt},
  aodax/.style={ymin=0, ymax=0.25, ytick={0,0.05,0.1,0.15,0.2,0.25}, ylabel={AOD}},
  tax/.style={ymin=288, ymax=290.5, ytick={288,288.5,289,289.5,290,290.5}, ylabel={Temperature (K)}},
  pax/.style={ymin=3.05, ymax=3.3, ytick={3.05,3.1,3.15,3.2,3.25,3.3}, ylabel={Precipitation (mm/day)}},
}

\begin{document}
\begin{tikzpicture}
\path[use as bounding box] (0,0) rectangle (21.025cm,-17.255cm);

% ---------- row 1 ----------
\begin{axis}[panel, aodax, at={(1.375cm,-0.8cm)}, title={(a) AOD},
  legend style={at={(0.969,0.045)}}]
\addplot[ssp] table[x=yr,y=aod]{\ssp}; \addlegendentry{SSP2-4.5}
\addplot[n60] table[x=yr,y=s60N]{\ta}; \addlegendentry{60°N}
\addplot[n30] table[x=yr,y=s30N]{\ta}; \addlegendentry{30°N}
\addplot[n15] table[x=yr,y=s15N]{\ta}; \addlegendentry{15°N}
\addplot[n00] table[x=yr,y=s0N]{\ta}; \addlegendentry{0°N}
\addplot[s15] table[x=yr,y=s15S]{\ta}; \addlegendentry{15°S}
\addplot[s30] table[x=yr,y=s30S]{\ta}; \addlegendentry{30°S}
\addplot[s60] table[x=yr,y=s60S]{\ta}; \addlegendentry{60°S}
\addplot[n60, dsh, forget plot] table[x=yr,y=d60N]{\ta};
\addplot[n30, dsh, forget plot] table[x=yr,y=d30N]{\ta};
\addplot[n15, dsh, forget plot] table[x=yr,y=d15N]{\ta};
\addplot[n00, dsh, forget plot] table[x=yr,y=d0N]{\ta};
\addplot[s15, dsh, forget plot] table[x=yr,y=d15S]{\ta};
\addplot[s30, dsh, forget plot] table[x=yr,y=d30S]{\ta};
\addplot[s60, dsh, forget plot] table[x=yr,y=d60S]{\ta};
\end{axis}

\begin{axis}[panel, tax, at={(8.415cm,-0.8cm)}, title={(b) Temperature},
  ymin=287.99, ymax=290.27, ytick={288,288.5,289,289.5,290},
  every axis title/.append style={yshift=-0.2cm}]
\addplot[ssp] table[x=yr,y=T]{\ssp};
\addplot[black, dsh] table[x=yr,y=Tf]{\ssp};
\addplot[n60] table[x=yr,y=s60N]{\tb};
\addplot[n30] table[x=yr,y=s30N]{\tb};
\addplot[n15] table[x=yr,y=s15N]{\tb};
\addplot[n00] table[x=yr,y=s0N]{\tb};
\addplot[s15] table[x=yr,y=s15S]{\tb};
\addplot[s30] table[x=yr,y=s30S]{\tb};
\addplot[s60] table[x=yr,y=s60S]{\tb};
\addplot[n60, dsh] table[x=yr,y=d60N]{\tb};
\addplot[n30, dsh] table[x=yr,y=d30N]{\tb};
\addplot[n15, dsh] table[x=yr,y=d15N]{\tb};
\addplot[n00, dsh] table[x=yr,y=d0N]{\tb};
\addplot[s15, dsh] table[x=yr,y=d15S]{\tb};
\addplot[s30, dsh] table[x=yr,y=d30S]{\tb};
\addplot[s60, dsh] table[x=yr,y=d60S]{\tb};
\end{axis}

\begin{axis}[panel, pax, at={(15.435cm,-0.8cm)}, title={(c) Precipitation}]
\addplot[ssp] table[x=yr,y=P]{\ssp};
\addplot[black, dsh] table[x=yr,y=Pf]{\ssp};
\addplot[n60] table[x=yr,y=s60N]{\tc};
\addplot[n30] table[x=yr,y=s30N]{\tc};
\addplot[n15] table[x=yr,y=s15N]{\tc};
\addplot[n00] table[x=yr,y=s0N]{\tc};
\addplot[s15] table[x=yr,y=s15S]{\tc};
\addplot[s30] table[x=yr,y=s30S]{\tc};
\addplot[s60] table[x=yr,y=s60S]{\tc};
\addplot[n60, dsh] table[x=yr,y=d60N]{\tc};
\addplot[n30, dsh] table[x=yr,y=d30N]{\tc};
\addplot[n15, dsh] table[x=yr,y=d15N]{\tc};
\addplot[n00, dsh] table[x=yr,y=d0N]{\tc};
\addplot[s15, dsh] table[x=yr,y=d15S]{\tc};
\addplot[s30, dsh] table[x=yr,y=d30S]{\tc};
\addplot[s60, dsh] table[x=yr,y=d60S]{\tc};
\end{axis}

% ---------- row 2 ----------
\begin{axis}[panel, aodax, at={(1.375cm,-6.545cm)}, title={(d)},
  legend style={at={(0.965,0.036)}}]
\addplot[ssp] table[x=yr,y=aod]{\ssp}; \addlegendentry{SSP2-4.5}
\addplot[fr] table[x=yr,y=rs]{\td}; \addlegendentry{0°N Feedback for 1.0°C}
\addplot[fb] table[x=yr,y=bs]{\td}; \addlegendentry{15°N+15°S Feedback for 1.0°C}
\addplot[fg] table[x=yr,y=gs]{\td}; \addlegendentry{30°N+30°S Feedback for 1.0°C}
\addplot[fp] table[x=yr,y=ps]{\td}; \addlegendentry{60°N+60°S Feedback for 1.0°C}
\addplot[fr, dsh, forget plot] table[x=yr,y=rd]{\td};
\addplot[fb, dsh, forget plot] table[x=yr,y=bd]{\td};
\addplot[fg, dsh, forget plot] table[x=yr,y=gd]{\td};
\addplot[fp, dsh, forget plot] table[x=yr,y=pd]{\td};
\end{axis}

\begin{axis}[panel, tax, at={(8.415cm,-6.545cm)}, title={(e)}]
\addplot[ssp] table[x=yr,y=T]{\ssp};
\addplot[black, dsh] table[x=yr,y=Tf]{\ssp};
\addplot[fr] table[x=yr,y=rs]{\te};
\addplot[fb] table[x=yr,y=bs]{\te};
\addplot[fg] table[x=yr,y=gs]{\te};
\addplot[fp] table[x=yr,y=ps]{\te};
\addplot[fr, dsh] table[x=yr,y=rd]{\te};
\addplot[fb, dsh] table[x=yr,y=bd]{\te};
\addplot[fg, dsh] table[x=yr,y=gd]{\te};
\addplot[fp, dsh] table[x=yr,y=pd]{\te};
\end{axis}

\begin{axis}[panel, pax, at={(15.435cm,-6.545cm)}, title={(f)}]
\addplot[ssp] table[x=yr,y=P]{\ssp};
\addplot[black, dsh] table[x=yr,y=Pf]{\ssp};
\addplot[fr] table[x=yr,y=rs]{\tf};
\addplot[fb] table[x=yr,y=bs]{\tf};
\addplot[fg] table[x=yr,y=gs]{\tf};
\addplot[fp] table[x=yr,y=ps]{\tf};
\addplot[fr, dsh] table[x=yr,y=rd]{\tf};
\addplot[fb, dsh] table[x=yr,y=bd]{\tf};
\addplot[fg, dsh] table[x=yr,y=gd]{\tf};
\addplot[fp, dsh] table[x=yr,y=pd]{\tf};
\end{axis}

% ---------- row 3 ----------
\begin{axis}[panel, at={(1.375cm,-12.29cm)}, title={(g)},
  ymin=0, ymax=0.3, ytick={0,0.1,0.2,0.3}, ylabel={AOD},
  legend style={at={(0.966,0.034)}}]
\addplot[ssp] table[x=yr,y=aod]{\ssp}; \addlegendentry{SSP2-4.5}
\addplot[mo] table[x=yr,y=as]{\tg}; \addlegendentry{Multi-Objective SAI}
\addplot[mo, dsh, forget plot] table[x=yr,y=ad]{\tg};
\end{axis}

\begin{axis}[panel, tax, at={(8.415cm,-12.29cm)}, title={(h)}]
\addplot[ssp] table[x=yr,y=T]{\ssp};
\addplot[black, dsh] table[x=yr,y=Tf]{\ssp};
\addplot[mo] table[x=yr,y=ts]{\tg};
\addplot[mo, dsh] table[x=yr,y=td]{\tg};
\end{axis}

\begin{axis}[panel, pax, at={(15.435cm,-12.29cm)}, title={(i)},
  ymin=3.1, ymax=3.3, ytick={3.1,3.15,3.2,3.25,3.3}]
\addplot[ssp] table[x=yr,y=P]{\ssp};
\addplot[black, dsh] table[x=yr,y=Pf]{\ssp};
\addplot[mo] table[x=yr,y=ps]{\tg};
\addplot[mo, dsh] table[x=yr,y=pd]{\tg};
\end{axis}
\end{tikzpicture}
\end{document}
